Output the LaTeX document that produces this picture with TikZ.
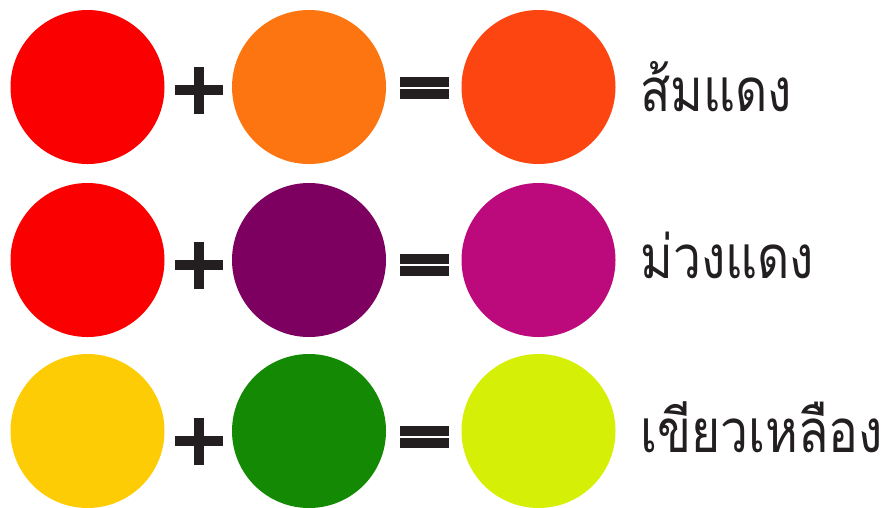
\documentclass[tikz,border=0pt]{standalone}
\usepackage{fontspec}
\newfontfamily\thaifont[Script=Thai,FakeStretch=0.83]{Loma}
\definecolor{mixred}{RGB}{251,0,0}
\definecolor{mixorange}{RGB}{252,117,17}
\definecolor{mixredorange}{RGB}{253,69,18}
\definecolor{mixpurple}{RGB}{125,0,96}
\definecolor{mixmagenta}{RGB}{188,10,124}
\definecolor{mixyellow}{RGB}{254,204,4}
\definecolor{mixgreen}{RGB}{20,138,4}
\definecolor{mixlime}{RGB}{214,239,7}
\definecolor{opdark}{RGB}{35,31,32}
\tikzset{
  blob/.style={circle,fill=#1,minimum size=154pt,inner sep=0pt},
  opbar/.style={rectangle,fill=opdark,inner sep=0pt,
                minimum width=#1,minimum height=10pt},
  opbar/.default=48pt,
  mixname/.style={anchor=base west,inner sep=0pt,text=opdark,
                  font=\thaifont\fontsize{60}{60}\selectfont},
}
\begin{document}
\begin{tikzpicture}[x=1pt,y=-1pt]
  \useasboundingbox (0,0) rectangle (885,507);

  \foreach \r/\y/\ca/\cb/\cc/\py/\ey/\ty/\mix in {
      1/87/mixred/mixorange/mixredorange/90/88/111/ส้มแดง,
      2/260/mixred/mixpurple/mixmagenta/265/265/278/ม่วงแดง,
      3/431/mixyellow/mixgreen/mixlime/441/437/452/เขียวเหลือง}{
    \node[blob=\ca] (left\r)  at (87.5,\y) {};
    \node[blob=\cb] (right\r) at (309,\y) {};
    \node[blob=\cc] (sum\r)   at (538.5,\y) {};
    % plus sign
    \node[opbar] (plush\r) at (199,\py) {};
    \node[opbar=10pt,minimum height=47pt] (plusv\r) at (199,\py) {};
    % equals sign
    \node[opbar=49pt] (eqtop\r) at (424,\ey-6) {};
    \node[opbar=49pt] (eqbot\r) at (424,\ey+6) {};
    \node[mixname] (name\r) at (640,\ty) {\mix};
  }
\end{tikzpicture}
\end{document}
